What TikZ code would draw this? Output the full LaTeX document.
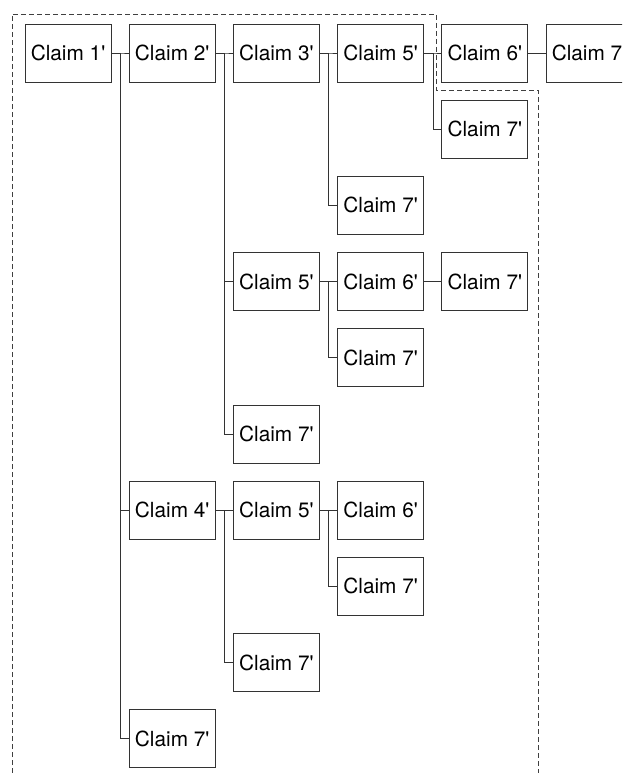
\documentclass[tikz,border=0pt]{standalone}
\usepackage{fontspec}
\setmainfont{TeX Gyre Heros}
\newcommand\claimname[1]{Claim #1\textquotesingle}
\begin{document}
\begin{tikzpicture}[x=1pt,y=-1pt,
  claim/.style={draw=black!80, line width=0.9pt, minimum width=86pt, minimum height=58pt,
    inner sep=0pt, font=\fontsize{20.8}{24}\selectfont, fill=white},
  link/.style={draw=black!80, line width=0.9pt},
  region/.style={draw=black!75, line width=0.9pt, dash pattern=on 5pt off 3pt}]
\useasboundingbox (0,0) rectangle (622,773);
\clip (0,0) rectangle (622,773);
% grid of columns and rows
\def\cx#1{\fpeval{68+104.2*(#1)}}
\def\ry#1{\fpeval{53+76.2*(#1)}}
% dashed region outline
\draw[region] (12,773) -- (12,14) -- (436,14) -- (436,90) -- (538,90) -- (538,773);
% nodes
\node[claim] (c1)   at (\cx{0},\ry{0}) {\claimname{1}};
\node[claim] (c2)   at (\cx{1},\ry{0}) {\claimname{2}};
\node[claim] (c4)   at (\cx{1},\ry{6}) {\claimname{4}};
\node[claim] (c7a)  at (\cx{1},\ry{9}) {\claimname{7}};
\node[claim] (c3)   at (\cx{2},\ry{0}) {\claimname{3}};
\node[claim] (c5b)  at (\cx{2},\ry{3}) {\claimname{5}};
\node[claim] (c7b)  at (\cx{2},\ry{5}) {\claimname{7}};
\node[claim] (c5c)  at (\cx{2},\ry{6}) {\claimname{5}};
\node[claim] (c7c)  at (\cx{2},\ry{8}) {\claimname{7}};
\node[claim] (c5a)  at (\cx{3},\ry{0}) {\claimname{5}};
\node[claim] (c7d)  at (\cx{3},\ry{2}) {\claimname{7}};
\node[claim] (c6b)  at (\cx{3},\ry{3}) {\claimname{6}};
\node[claim] (c7e)  at (\cx{3},\ry{4}) {\claimname{7}};
\node[claim] (c6c)  at (\cx{3},\ry{6}) {\claimname{6}};
\node[claim] (c7f)  at (\cx{3},\ry{7}) {\claimname{7}};
\node[claim] (c6a)  at (\cx{4},\ry{0}) {\claimname{6}};
\node[claim] (c7g)  at (\cx{4},\ry{1}) {\claimname{7}};
\node[claim] (c7h)  at (\cx{4},\ry{3}) {\claimname{7}};
\node[claim] (c7i)  at (\cx{5},\ry{0}) {\claimname{7}};
% tree connectors: parent east -> trunk -> child west
\foreach \p/\c in {c1/c2, c1/c4, c1/c7a,
                   c2/c3, c2/c5b, c2/c7b,
                   c3/c5a, c3/c7d,
                   c5a/c6a, c5a/c7g,
                   c5b/c6b, c5b/c7e,
                   c4/c5c, c4/c7c,
                   c5c/c6c, c5c/c7f}
  \draw[link] (\p.east) -- ++(9,0) |- (\c.west);
\foreach \p/\c in {c6a/c7i, c6b/c7h}
  \draw[link] (\p.east) -- (\c.west);
\end{tikzpicture}
\end{document}
